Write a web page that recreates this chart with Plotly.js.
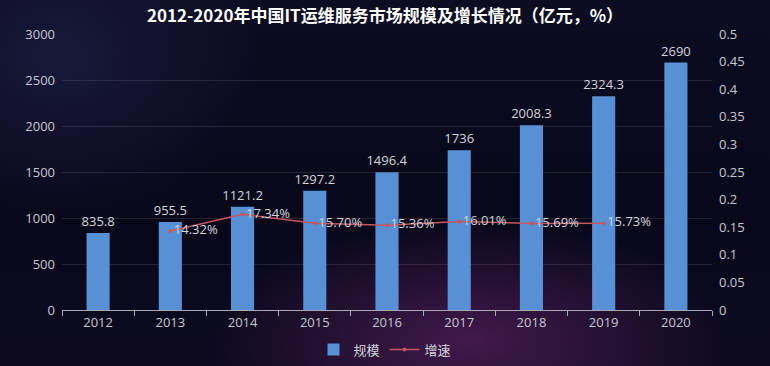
<!DOCTYPE html>
<html><head><meta charset="utf-8">
<script src="https://cdn.plot.ly/plotly-3.0.1.min.js"></script>
<style>
html,body{margin:0;padding:0;}
body{width:770px;height:366px;overflow:hidden;
background:
radial-gradient(ellipse 260px 120px at 470px 340px, rgba(120,40,120,0.5), rgba(0,0,0,0) 100%),
radial-gradient(ellipse 200px 160px at 60px 60px, rgba(40,40,90,0.45), rgba(0,0,0,0) 100%),
linear-gradient(180deg,#0c0c22 0%,#08081a 60%,#0d0a20 100%);}
#chart{width:770px;height:366px;}
</style></head><body>
<div id="chart"></div>
<script>
const years = ['2012','2013','2014','2015','2016','2017','2018','2019','2020'];
const scale = [835.8, 955.5, 1121.2, 1297.2, 1496.4, 1736, 2008.3, 2324.3, 2690];
const growthYears = ['2013','2014','2015','2016','2017','2018','2019'];
const growth = [0.1432, 0.1734, 0.1570, 0.1536, 0.1601, 0.1569, 0.1573];
const growthLabels = ['14.32%','17.34%','15.70%','15.36%','16.01%','15.69%','15.73%'];
const titleText = '2012-2020年中国IT运维服务市场规模及增长情况（亿元，%）';

const font = '"Open Sans", "Noto Sans CJK SC", sans-serif';
const traces = [
 {type:'bar', name:'规模', x:years, y:scale, text:scale.map(String), textposition:'outside',
  constraintext:'none', textfont:{color:'#d4d4dc', size:13, family:font}, cliponaxis:false,
  marker:{color:'#5890d6'}, width:0.32},
 {type:'scatter', mode:'lines+markers+text', name:'增速', x:growthYears, y:growth, yaxis:'y2',
  text:growthLabels, textposition:'middle right', textfont:{color:'#d4d4dc', size:13, family:font},
  line:{color:'#c45860', width:1.5}, marker:{color:'#c45860', size:4}, cliponaxis:false}
];
const layout = {
 width:770, height:366,
 paper_bgcolor:'rgba(0,0,0,0)', plot_bgcolor:'rgba(0,0,0,0)',
 margin:{l:62, r:58, t:34, b:56},
 font:{family:font, color:'#c8c8d2', size:13},
 title:{text:titleText, font:{size:17, color:'#ffffff', family:'"Noto Sans CJK SC", sans-serif', weight:'bold'}, x:0.5, xanchor:'center', y:0.955, yanchor:'middle'},
 xaxis:{type:'category', tickson:'boundaries', ticks:'outside', ticklen:5, tickcolor:'#aaaab4',
  showline:true, linecolor:'#aaaab4', linewidth:1, showgrid:false, tickfont:{size:13, color:'#c8c8d2'}},
 yaxis:{range:[0,3000], dtick:500, showgrid:true, gridcolor:'rgba(255,255,255,0.11)', gridwidth:1,
  zeroline:false, showline:false, tickfont:{size:13, color:'#c8c8d2'}, ticklabelstandoff:6},
 yaxis2:{overlaying:'y', side:'right', range:[0,0.5], dtick:0.05, showgrid:false, zeroline:false,
  showline:false, tickfont:{size:13, color:'#c8c8d2'}, ticklabelstandoff:6},
 legend:{orientation:'h', x:0.5, xanchor:'center', xref:'container', y:0.045, yanchor:'middle', yref:'container',
  font:{size:13, color:'#d4d4dc'}, bgcolor:'rgba(0,0,0,0)', itemwidth:30},
 showlegend:true
};
Plotly.newPlot('chart', traces, layout, {displayModeBar:false, staticPlot:true});
</script>
</body></html>
